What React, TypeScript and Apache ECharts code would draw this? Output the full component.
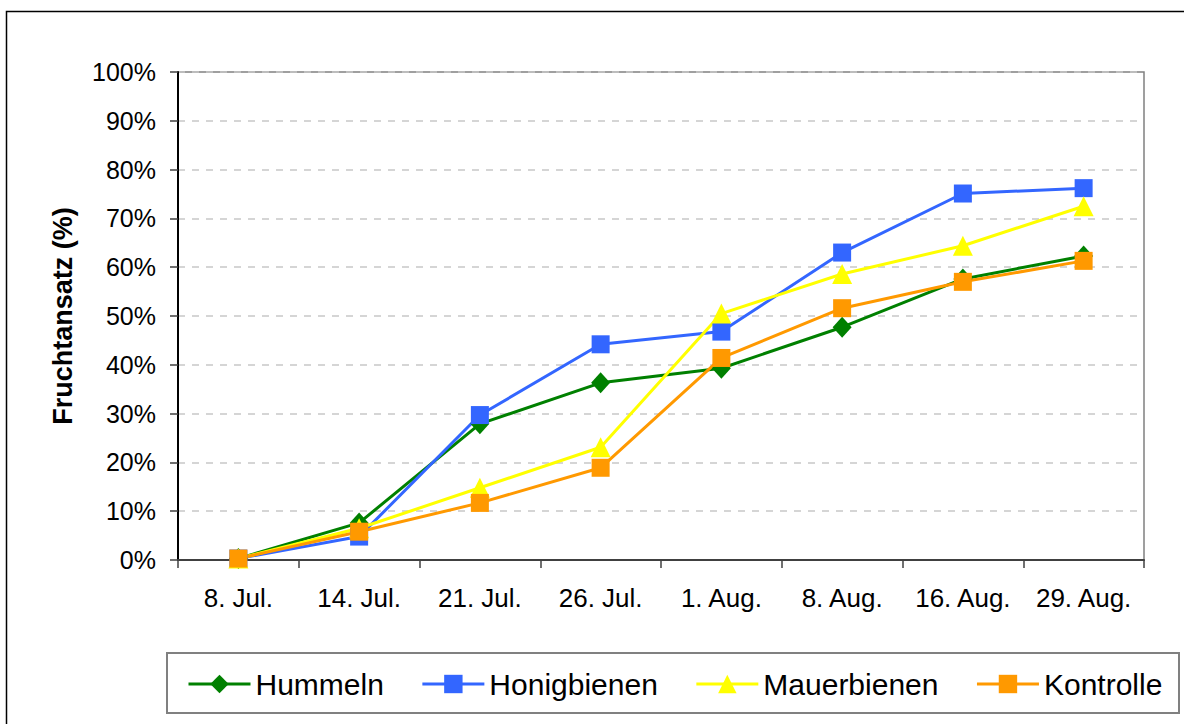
import React, { useEffect, useRef } from "react";
import * as echarts from "echarts";

const categories = ["8. Jul.", "14. Jul.", "21. Jul.", "26. Jul.", "1. Aug.", "8. Aug.", "16. Aug.", "29. Aug."];
const hummeln = [0.3, 7.6, 27.9, 36.3, 39.3, 47.7, 57.6, 62.3];
const honigbienen = [0.3, 4.8, 29.7, 44.2, 46.8, 63.0, 75.1, 76.2];
const mauerbienen = [0.3, 6.5, 14.8, 23.1, 50.5, 58.6, 64.4, 72.5];
const kontrolle = [0.3, 5.8, 11.7, 18.9, 41.4, 51.6, 57.0, 61.3];
const yTicks = { min: 0, max: 100, interval: 10 };

const FONT = "'Liberation Sans', Arial, sans-serif";

export default function App() {
  const ref = useRef<HTMLDivElement>(null);
  useEffect(() => {
    if (!ref.current) return;
    const chart = echarts.init(ref.current, null, { renderer: "svg" });
    const mk = (name: string, data: number[], color: string, symbol: string, size: number | number[]) => ({
      name,
      type: "line",
      data,
      symbol,
      symbolSize: size,
      showSymbol: true,
      lineStyle: { color, width: 3 },
      itemStyle: { color, borderWidth: 0 },
      clip: false,
    });
    chart.setOption({
      animation: false,
      backgroundColor: "#ffffff",
      textStyle: { fontFamily: FONT },
      grid: {
        left: 178,
        top: 72,
        right: 40,
        bottom: 164,
        show: true,
        borderColor: "#808080",
        borderWidth: 1.5,
        backgroundColor: "transparent",
      },
      xAxis: {
        type: "category",
        data: categories,
        boundaryGap: true,
        axisLine: { lineStyle: { color: "#404040", width: 2 } },
        axisTick: { show: true, length: 8, lineStyle: { color: "#404040", width: 1.5 } },
        axisLabel: { color: "#000", fontSize: 26, fontFamily: FONT, margin: 25, interval: 0 },
        splitLine: { show: false },
      },
      yAxis: {
        type: "value",
        min: yTicks.min,
        max: yTicks.max,
        interval: yTicks.interval,
        name: "Fruchtansatz (%)",
        nameLocation: "middle",
        nameRotate: 90,
        nameGap: 102,
        nameTextStyle: { color: "#000", fontSize: 27, fontWeight: "bold", fontFamily: FONT },
        axisLine: { show: true, lineStyle: { color: "#000", width: 2 } },
        axisTick: { show: true, length: 8, lineStyle: { color: "#404040", width: 1.5 } },
        axisLabel: { color: "#000", fontSize: 25, fontFamily: FONT, margin: 22, formatter: "{value}%" },
        splitLine: { show: true, lineStyle: { color: "#c8c8c8", width: 1.5, type: [7, 7] } },
      },
      legend: {
        left: 187,
        top: 669,
        padding: 0,
        itemGap: 37,
        itemWidth: 62,
        itemHeight: 23,
        lineStyle: { width: 3 },
        textStyle: { color: "#000", fontSize: 30, fontFamily: FONT },
        data: ["Hummeln", "Honigbienen", "Mauerbienen", "Kontrolle"],
      },
      graphic: [
        {
          type: "rect",
          shape: { x: 6.5, y: 11.5, width: 1300, height: 900 },
          style: { fill: "none", stroke: "#000", lineWidth: 1.5 },
          silent: true,
        },
        {
          type: "rect",
          shape: { x: 167, y: 653, width: 1012, height: 60 },
          style: { fill: "none", stroke: "#808080", lineWidth: 2 },
          silent: true,
        },
      ],
      series: [
        mk("Hummeln", hummeln, "#008000", "diamond", [19, 21]),
        mk("Honigbienen", honigbienen, "#3366FF", "rect", 18),
        mk("Mauerbienen", mauerbienen, "#FFFF00", "triangle", 20),
        mk("Kontrolle", kontrolle, "#FF9900", "rect", 18),
      ],
    });
    return () => chart.dispose();
  }, []);
  return (
    <div
      ref={ref}
      style={{ position: "fixed", left: 0, top: 0, width: 1184, height: 724, background: "#fff" }}
    />
  );
}
